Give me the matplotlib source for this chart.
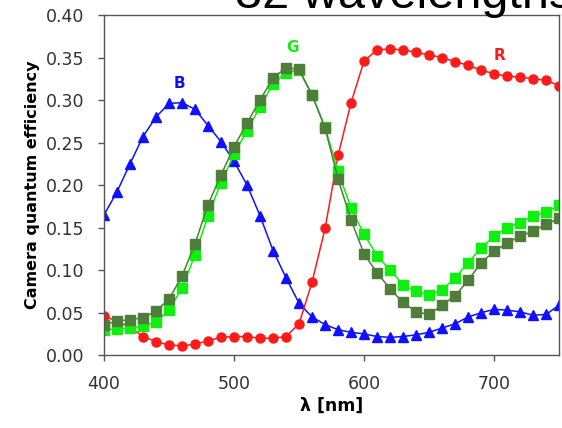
import matplotlib
matplotlib.use("Agg")
import matplotlib.pyplot as plt

# wavelengths, 10 nm steps
wavelengths = list(range(400, 760, 10))

# camera quantum efficiency per channel
blue = [0.165, 0.192, 0.225, 0.257, 0.280, 0.296, 0.297, 0.289, 0.270, 0.251,
        0.228, 0.200, 0.164, 0.123, 0.091, 0.061, 0.045, 0.036, 0.030, 0.027,
        0.025, 0.022, 0.021, 0.022, 0.024, 0.027, 0.032, 0.037, 0.045, 0.050,
        0.054, 0.053, 0.051, 0.047, 0.048, 0.059]
red = [0.046, 0.040, 0.033, 0.022, 0.016, 0.012, 0.011, 0.013, 0.017, 0.021,
       0.022, 0.022, 0.020, 0.020, 0.022, 0.037, 0.086, 0.149, 0.235, 0.297,
       0.346, 0.359, 0.360, 0.359, 0.356, 0.353, 0.350, 0.345, 0.341, 0.335,
       0.331, 0.328, 0.327, 0.325, 0.323, 0.317]
green_light = [0.030, 0.031, 0.032, 0.034, 0.039, 0.053, 0.079, 0.118, 0.164, 0.203,
               0.236, 0.264, 0.292, 0.319, 0.332, 0.335, 0.306, 0.268, 0.216, 0.173,
               0.142, 0.117, 0.100, 0.083, 0.075, 0.071, 0.077, 0.091, 0.109, 0.126,
               0.140, 0.150, 0.156, 0.164, 0.168, 0.177]
green_dark = [0.036, 0.040, 0.042, 0.044, 0.052, 0.066, 0.093, 0.131, 0.177, 0.212,
              0.245, 0.273, 0.300, 0.326, 0.338, 0.336, 0.306, 0.267, 0.207, 0.159,
              0.119, 0.097, 0.078, 0.062, 0.051, 0.048, 0.059, 0.070, 0.088, 0.109,
              0.122, 0.132, 0.140, 0.146, 0.154, 0.161]

fig = plt.figure(figsize=(5.62, 4.28), dpi=100)
ax = fig.add_axes([0.185, 0.170, 0.810, 0.795])

ax.plot(wavelengths, blue, color="#1010ff", marker="^", markersize=6.5, lw=1.1)
ax.plot(wavelengths, red, color="#ff1a1a", marker="o", markersize=6.5, lw=1.1)
ax.plot(wavelengths, green_light, color="#10f010", marker="s", markersize=6.5, lw=1.1)
ax.plot(wavelengths, green_dark, color="#4f7d3a", marker="s", markersize=6.5, lw=1.1)

ax.text(458, 0.319, "B", color="#1010ff", fontsize=11, fontweight="bold", ha="center", va="center")
ax.text(545, 0.362, "G", color="#10f010", fontsize=11, fontweight="bold", ha="center", va="center")
ax.text(704, 0.352, "R", color="#ff1a1a", fontsize=11, fontweight="bold", ha="center", va="center")

ax.set_xlim(400, 750)
ax.set_ylim(0, 0.40)
ax.set_xticks([400, 500, 600, 700])
ax.set_yticks([0.0, 0.05, 0.10, 0.15, 0.20, 0.25, 0.30, 0.35, 0.40])
ax.set_yticklabels(["0.00", "0.05", "0.10", "0.15", "0.20", "0.25", "0.30", "0.35", "0.40"])
ax.tick_params(direction="out", length=4, width=1, colors="#555555", labelsize=12.5,
               labelcolor="#333333")
ax.tick_params(axis="x", pad=10)
ax.tick_params(axis="y", pad=10)
for s in ax.spines.values():
    s.set_color("#555555")
    s.set_linewidth(1)

ax.set_ylabel("Camera quantum efficiency", fontsize=11.5, fontweight="bold", labelpad=4)
ax.set_xlabel("λ [nm]", fontsize=12.5, fontweight="bold", labelpad=3)

# title cut off at the top of the image
fig.text(235 / 562, 1 - 8 / 428, "32 wavelengths", fontsize=35, family="Liberation Sans",
         ha="left", va="baseline")

fig.savefig("out.png", dpi=100)
